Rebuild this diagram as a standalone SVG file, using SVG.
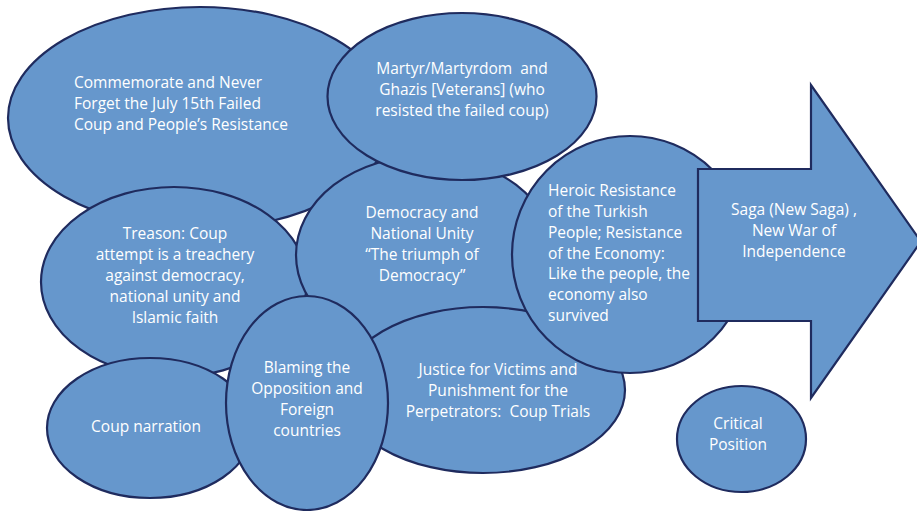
<svg xmlns="http://www.w3.org/2000/svg" width="917" height="511" viewBox="0 0 917 511">
<style>
.n{fill:#6697cc;stroke:#1f2b5e;stroke-width:2.2}
text{font-family:"Open Sans","Liberation Sans",sans-serif;font-size:15.5px;fill:#ffffff}
.c{text-anchor:middle}
</style>
<rect width="917" height="511" fill="#ffffff"/>
<g id="commemorate"><ellipse class="n" cx="200" cy="118" rx="192" ry="111"/>
<text x="74" y="88">Commemorate and Never</text><text x="74" y="109">Forget the July 15th Failed</text><text x="74" y="130">Coup and People’s Resistance</text></g>
<g id="treason"><ellipse class="n" cx="174" cy="282" rx="133" ry="95"/>
<text class="c" x="175" y="239">Treason: Coup</text><text class="c" x="175" y="260">attempt is a treachery</text><text class="c" x="175" y="281">against democracy,</text><text class="c" x="175" y="302">national unity and</text><text class="c" x="175" y="323">Islamic faith</text></g>
<g id="democracy"><ellipse class="n" cx="425" cy="255" rx="129" ry="99"/>
<text class="c" x="422" y="218">Democracy and</text><text class="c" x="422" y="239">National Unity</text><text class="c" x="422" y="260">“The triumph of</text><text class="c" x="422" y="281">Democracy”</text></g>
<g id="martyr"><ellipse class="n" cx="462" cy="96.5" rx="134.5" ry="83.5"/>
<text class="c" x="462" y="74" xml:space="preserve">Martyr/Martyrdom  and</text><text class="c" x="462" y="95">Ghazis [Veterans] (who</text><text class="c" x="462" y="116">resisted the failed coup)</text></g>
<g id="justice"><ellipse class="n" cx="483" cy="390" rx="142" ry="83"/>
<text class="c" x="498" y="375">Justice for Victims and</text><text class="c" x="498" y="396">Punishment for the</text><text class="c" x="498" y="417" xml:space="preserve">Perpetrators:  Coup Trials</text></g>
<g id="heroic"><ellipse class="n" cx="630" cy="254.5" rx="118" ry="118.5"/>
<text x="548" y="196">Heroic Resistance</text><text x="548" y="217">of the Turkish</text><text x="548" y="238">People; Resistance</text><text x="548" y="259">of the Economy:</text><text x="548" y="279">Like the people, the</text><text x="548" y="300">economy also</text><text x="548" y="321">survived</text></g>
<g id="saga"><polygon class="n" points="698,169 811,169 811,85 921,241.5 811,398 811,321 698,321"/>
<text class="c" x="794" y="215">Saga (New Saga) ,</text><text class="c" x="794" y="236">New War of</text><text class="c" x="794" y="257">Independence</text></g>
<g id="coup-narration"><ellipse class="n" cx="150" cy="428" rx="103" ry="70"/>
<text class="c" x="146" y="432">Coup narration</text></g>
<g id="blaming"><ellipse class="n" cx="307" cy="403" rx="81" ry="107"/>
<text class="c" x="307" y="373">Blaming the</text><text class="c" x="307" y="394">Opposition and</text><text class="c" x="307" y="415">Foreign</text><text class="c" x="307" y="436">countries</text></g>
<g id="critical"><ellipse class="n" cx="741.5" cy="439" rx="64.5" ry="53"/>
<text class="c" x="738" y="429">Critical</text><text class="c" x="738" y="450">Position</text></g>
<g id="connectors"></g>
</svg>
